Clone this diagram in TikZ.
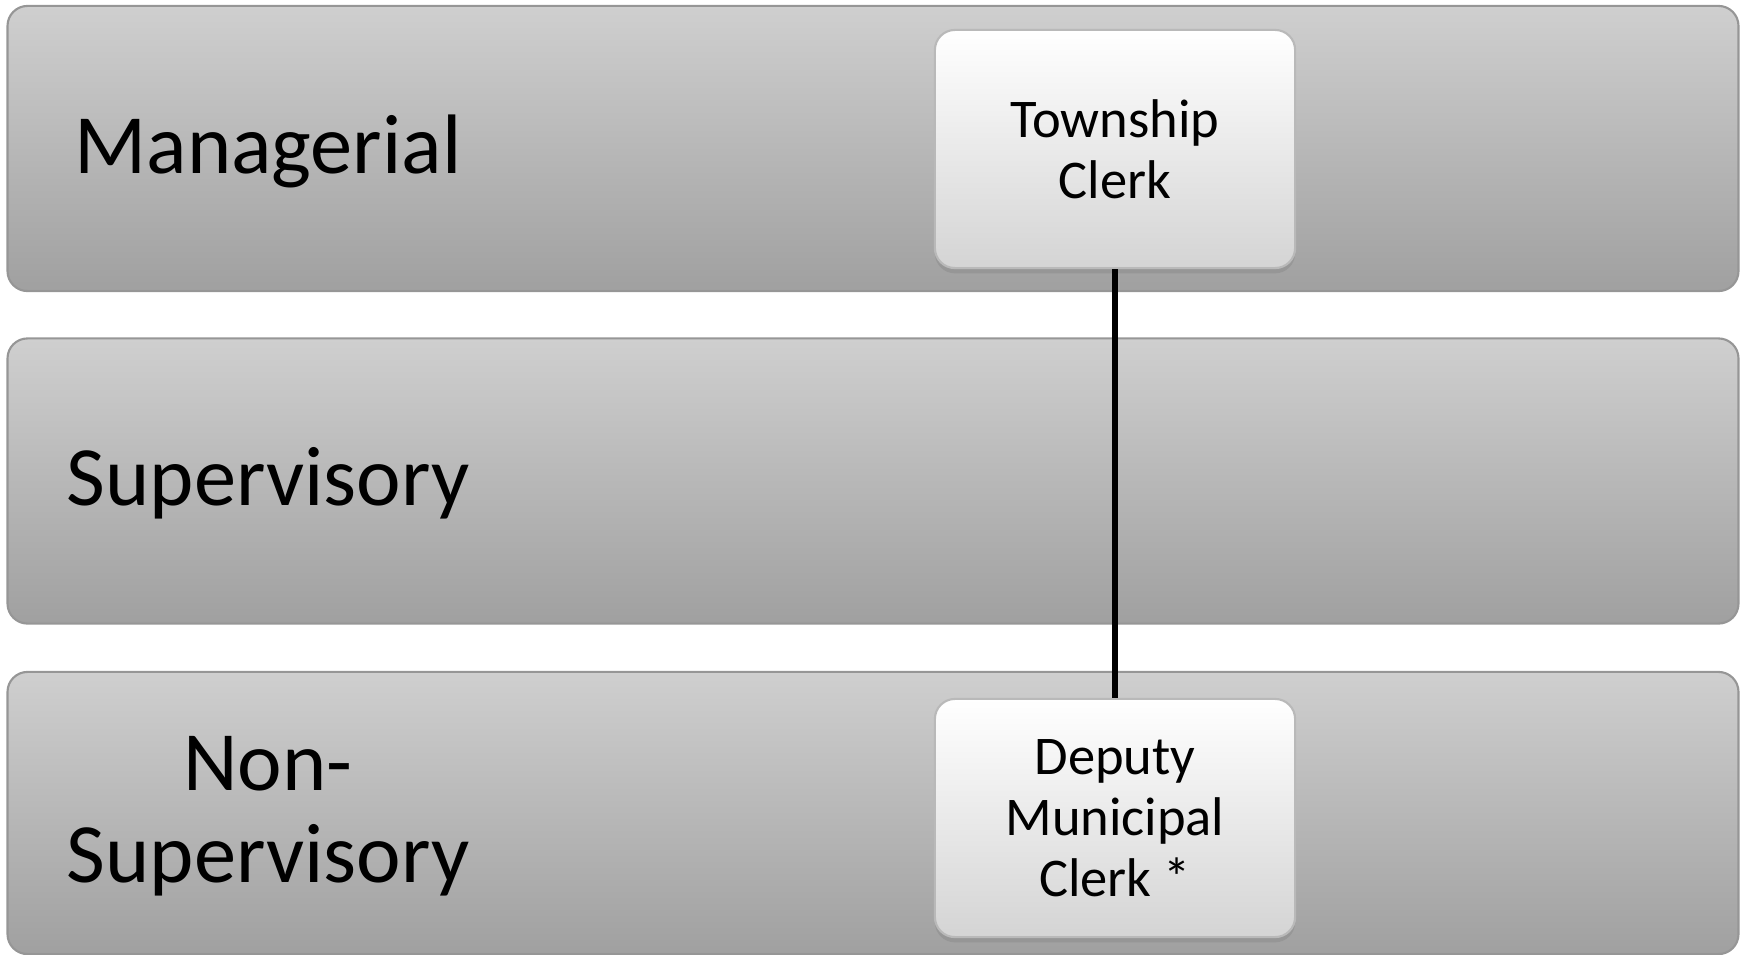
\documentclass[tikz,border=0pt]{standalone}
\usepackage{fontspec}
\setmainfont{Carlito}
\usetikzlibrary{shadows}

\definecolor{bandtop}{RGB}{207,207,207}
\definecolor{bandbot}{RGB}{160,160,160}
\definecolor{bandline}{RGB}{150,150,150}
\definecolor{boxbot}{RGB}{212,212,212}

\tikzset{
    band/.style={rounded corners=0.2cm, draw=bandline, line width=0.6pt,
        top color=bandtop, bottom color=bandbot,
        minimum width=17.3cm, minimum height=2.85cm, inner sep=0pt},
    bandlabel/.style={align=center, font=\fontsize{24}{26}\selectfont},
    rolebox/.style={rounded corners=0.2cm, draw=gray!55, line width=0.6pt,
        top color=white, bottom color=boxbot,
        drop shadow={shadow xshift=0pt, shadow yshift=-1.5pt, opacity=0.35},
        minimum width=3.6cm, minimum height=2.38cm, inner sep=0pt,
        align=center, font=\fontsize{15.5}{17.4}\selectfont},
}

\begin{document}
\begin{tikzpicture}[x=0.01cm, y=-0.01cm]
    \useasboundingbox (0,0) rectangle (1745,954);

    % Bands
    \node[band] (mgrband) at (873,148.5) {};
    \node[band] (supband) at (873,481) {};
    \node[band, minimum height=2.82cm] (nonband) at (873,813) {};

    % Band labels
    \node[bandlabel] (mgrlabel) at (268,151) {Managerial};
    \node[bandlabel] (suplabel) at (268,483) {Supervisory};
    \node[bandlabel] (nonlabel) at (268,816) {Non-\\Supervisory};

    % Roles
    \node[rolebox] (clerk) at (1115,149) {Township\\Clerk};
    \node[rolebox] (deputy) at (1115,818) {Deputy\\Municipal\\Clerk *};

    % Reporting line
    \draw[line width=1.6pt] (clerk.south) -- (deputy.north);
\end{tikzpicture}
\end{document}
